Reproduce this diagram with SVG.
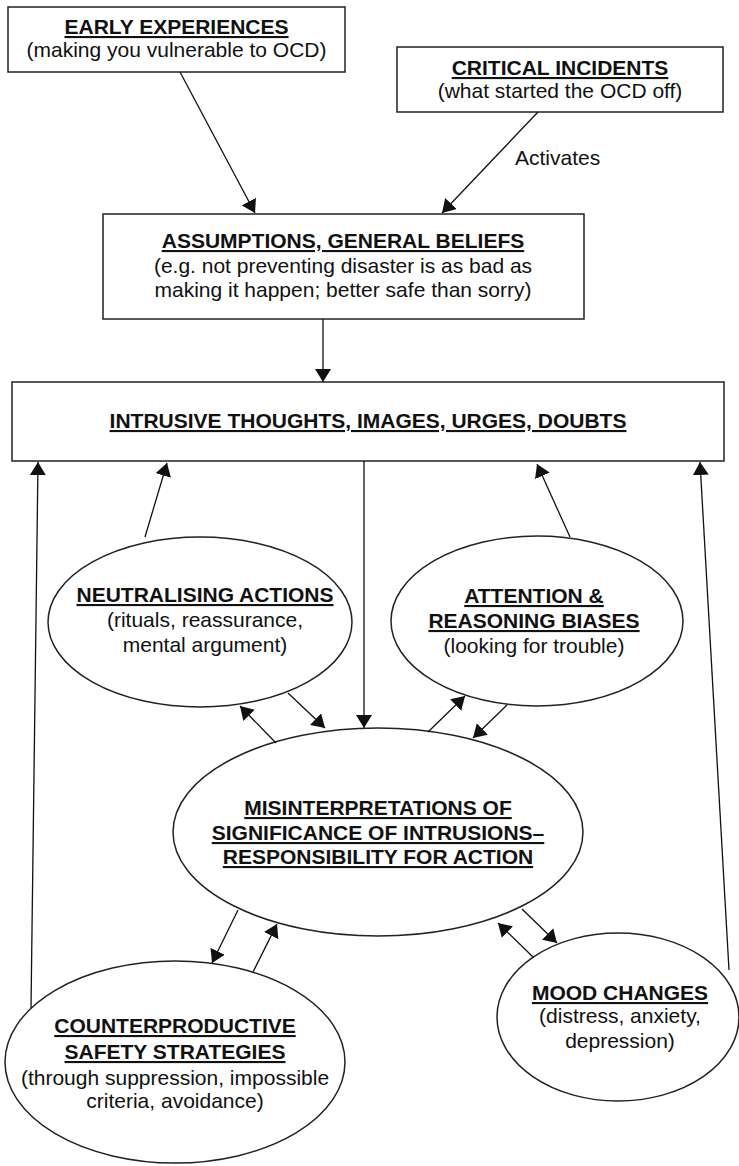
<svg xmlns="http://www.w3.org/2000/svg" width="739" height="1166" viewBox="0 0 739 1166">
  <style>
    .box { fill: #fff; stroke: #222; stroke-width: 1.5; }
    .txt { font-family: "Liberation Sans", Arial, Helvetica, sans-serif; font-size: 21px; fill: #111; text-anchor: middle; }
    .hd { font-weight: bold; text-decoration: underline; }
    .lbl { font-family: "Liberation Sans", Arial, Helvetica, sans-serif; font-size: 21px; fill: #111; }
    .arr { fill: none; stroke: #111; stroke-width: 1.3; marker-end: url(#head); }
  </style>
  <defs>
    <marker id="head" markerUnits="userSpaceOnUse" viewBox="0 0 13 16" markerWidth="13" markerHeight="16" refX="13" refY="8" orient="auto">
      <path d="M0,0 L13,8 L0,16 z" fill="#111"/>
    </marker>
  </defs>
  <rect width="739" height="1166" fill="#fff"/>

  <g id="early-experiences">
    <rect class="box" x="8" y="7" width="337" height="65"/>
    <text class="txt hd" x="176.5" y="34">EARLY EXPERIENCES</text>
    <text class="txt" x="176.5" y="57">(making you vulnerable to OCD)</text>
  </g>

  <g id="critical-incidents">
    <rect class="box" x="397" y="47" width="326" height="65"/>
    <text class="txt hd" x="560" y="75">CRITICAL INCIDENTS</text>
    <text class="txt" x="560" y="98">(what started the OCD off)</text>
  </g>

  <g id="assumptions">
    <rect class="box" x="103" y="214" width="481" height="105"/>
    <text class="txt hd" x="343" y="248">ASSUMPTIONS, GENERAL BELIEFS</text>
    <text class="txt" x="343" y="273">(e.g. not preventing disaster is as bad as</text>
    <text class="txt" x="343" y="297">making it happen; better safe than sorry)</text>
  </g>

  <g id="intrusive-thoughts">
    <rect class="box" x="12" y="382" width="712" height="79"/>
    <text class="txt hd" x="368" y="428">INTRUSIVE THOUGHTS, IMAGES, URGES, DOUBTS</text>
  </g>

  <g id="neutralising-actions">
    <ellipse class="box" cx="200" cy="622" rx="152" ry="85"/>
    <text class="txt hd" x="205" y="602">NEUTRALISING ACTIONS</text>
    <text class="txt" x="205" y="627">(rituals, reassurance,</text>
    <text class="txt" x="205" y="652">mental argument)</text>
  </g>

  <g id="attention-biases">
    <ellipse class="box" cx="537" cy="621" rx="146" ry="85"/>
    <text class="txt hd" x="534" y="603">ATTENTION &amp;</text>
    <text class="txt hd" x="534" y="628">REASONING BIASES</text>
    <text class="txt" x="534" y="653">(looking for trouble)</text>
  </g>

  <g id="misinterpretations">
    <ellipse class="box" cx="378" cy="832" rx="205" ry="104"/>
    <text class="txt hd" x="378" y="815">MISINTERPRETATIONS OF</text>
    <text class="txt hd" x="378" y="840">SIGNIFICANCE OF INTRUSIONS–</text>
    <text class="txt hd" x="378" y="864">RESPONSIBILITY FOR ACTION</text>
  </g>

  <g id="safety-strategies">
    <ellipse class="box" cx="175" cy="1062" rx="170" ry="101"/>
    <text class="txt hd" x="175" y="1033">COUNTERPRODUCTIVE</text>
    <text class="txt hd" x="175" y="1059">SAFETY STRATEGIES</text>
    <text class="txt" x="175" y="1085">(through suppression, impossible</text>
    <text class="txt" x="175" y="1108">criteria, avoidance)</text>
  </g>

  <g id="mood-changes">
    <ellipse class="box" cx="618" cy="1017" rx="121" ry="84"/>
    <text class="txt hd" x="620" y="1000">MOOD CHANGES</text>
    <text class="txt" x="620" y="1023">(distress, anxiety,</text>
    <text class="txt" x="620" y="1048">depression)</text>
  </g>

  <g id="connectors">
    <line class="arr" x1="180" y1="72" x2="255" y2="213"/>
    <line class="arr" x1="538" y1="112" x2="442" y2="213"/>
    <text class="lbl" x="515" y="165">Activates</text>
    <line class="arr" x1="323" y1="319" x2="323" y2="382"/>
    <line class="arr" x1="31" y1="1008" x2="38" y2="462"/>
    <line class="arr" x1="145" y1="537" x2="167" y2="463"/>
    <line class="arr" x1="570" y1="537" x2="537" y2="464"/>
    <line class="arr" x1="729" y1="970" x2="700" y2="462"/>
    <line class="arr" x1="364" y1="461" x2="364" y2="728"/>
    <line class="arr" x1="276" y1="743" x2="240" y2="706"/>
    <line class="arr" x1="288" y1="693" x2="325" y2="728"/>
    <line class="arr" x1="428" y1="732" x2="465" y2="696"/>
    <line class="arr" x1="507" y1="705" x2="473" y2="738"/>
    <line class="arr" x1="238" y1="910" x2="212" y2="963"/>
    <line class="arr" x1="253" y1="972" x2="277" y2="924"/>
    <line class="arr" x1="522" y1="909" x2="557" y2="943"/>
    <line class="arr" x1="533" y1="957" x2="498" y2="923"/>
  </g>
</svg>
